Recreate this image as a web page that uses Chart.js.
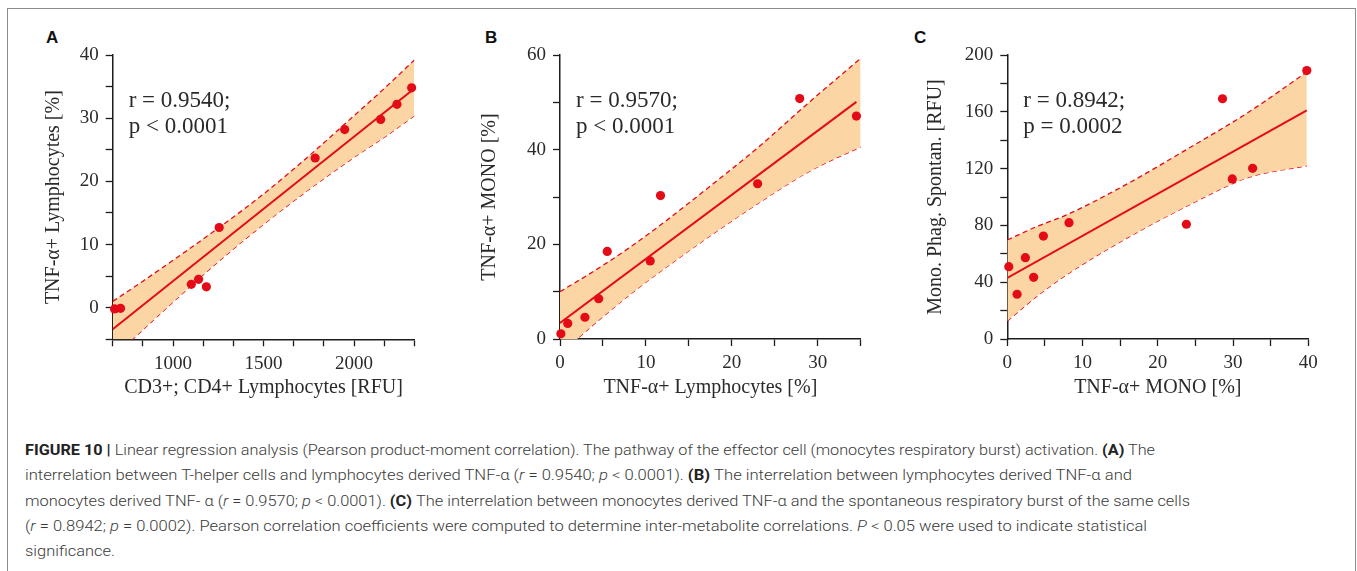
<!DOCTYPE html>
<html>
<head>
<meta charset="utf-8">
<script src="https://cdn.jsdelivr.net/npm/chart.js@4.4.1/dist/chart.umd.min.js"></script>
<style>
  html, body { margin: 0; padding: 0; background: #fff; }
  body { width: 1357px; height: 571px; position: relative; overflow: hidden; }
  .frame { position: absolute; left: 7px; top: 8px; width: 1349px; height: 700px;
           border: 1px solid #8c8c8c; border-bottom: none; box-sizing: border-box; }
  canvas { position: absolute; }
  .tag { position: absolute; font: bold 17px "Liberation Sans", Arial, sans-serif; color: #111; line-height: 17px; }
  .caption { position: absolute; left: 25px; top: 438px; font: 300 15px Roboto, sans-serif;
             color: #3a3a3a; line-height: 25.3px; }
  .caption div { white-space: nowrap; transform-origin: 0 50%; width: max-content; }
  .caption b { font-weight: 700; color: #222; }
</style>
</head>
<body>
<div class="frame"></div>
<div class="tag" style="left:46px;top:29px">A</div>
<div class="tag" style="left:485px;top:29px">B</div>
<div class="tag" style="left:914px;top:29px">C</div>
<canvas id="chartA"></canvas>
<canvas id="chartB"></canvas>
<canvas id="chartC"></canvas>
<div class="caption" id="caption">
  <div data-w="1130"><b>FIGURE 10 |</b> Linear regression analysis (Pearson product-moment correlation). The pathway of the effector cell (monocytes respiratory burst) activation. <b>(A)</b> The</div>
  <div data-w="1107">interrelation between T-helper cells and lymphocytes derived TNF-α (<i>r</i> = 0.9540; <i>p</i> &lt; 0.0001). <b>(B)</b> The interrelation between lymphocytes derived TNF-α and</div>
  <div data-w="1165">monocytes derived TNF- α (<i>r</i> = 0.9570; <i>p</i> &lt; 0.0001). <b>(C)</b> The interrelation between monocytes derived TNF-α and the spontaneous respiratory burst of the same cells</div>
  <div data-w="1122">(<i>r</i> = 0.8942; <i>p</i> = 0.0002). Pearson correlation coefficients were computed to determine inter-metabolite correlations. <i>P</i> &lt; 0.05 were used to indicate statistical</div>
  <div>significance.</div>
</div>
<script>
// panel A: CD3+CD4+ vs TNF-a+ lymphocytes
const aX = [677, 710, 1101, 1141, 1184, 1255, 1785, 1948, 2147, 2237, 2318];
const aY = [-0.2, -0.1, 3.7, 4.5, 3.3, 12.7, 23.7, 28.2, 29.8, 32.2, 34.8];
const aFitX = [666.67, 2333.33];
const aFitY = [-3.4, 34.7];
const aBandX = [666.67, 833, 1000, 1250, 1500, 1750, 2000, 2167, 2333.33];
const aBandUp = [1.0, 4.2, 7.5, 12.6, 18.0, 24.0, 30.4, 34.7, 39.2];
const aBandLo = [-7.9, -3.5, 0.9, 7.3, 13.2, 18.7, 23.8, 27.0, 30.4];
const aXTicks = [666.67, 833.33, 1000, 1166.67, 1333.33, 1500, 1666.67, 1833.33, 2000, 2166.67, 2333.33];
const aXLabels = [1000, 1500, 2000];
const aYTicks = [-5, 0, 5, 10, 15, 20, 25, 30, 35, 40];
const aYLabels = [0, 10, 20, 30, 40];

// panel B: TNF-a+ lymphocytes vs TNF-a+ MONO
const bX = [0.1, 0.9, 2.9, 4.5, 5.5, 10.5, 11.7, 23.0, 27.9, 34.5];
const bY = [1.1, 3.3, 4.6, 8.5, 18.5, 16.5, 30.3, 32.8, 50.8, 47.1];
const bFitX = [0, 34.5];
const bFitY = [3.4, 50.1];
const bBandX = [0, 4, 8, 12, 17, 23, 29, 35];
const bBandUp = [10.0, 14.4, 19.2, 24.5, 31.6, 40.4, 50.0, 59.3];
const bBandLo = [-3.2, 3.2, 9.2, 14.7, 21.2, 28.6, 35.4, 40.6];
const bXTicks = [0, 5, 10, 15, 20, 25, 30, 35];
const bXLabels = [0, 10, 20, 30];
const bYTicks = [0, 10, 20, 30, 40, 50, 60];
const bYLabels = [0, 20, 40, 60];

// panel C: TNF-a+ MONO vs spontaneous respiratory burst
const cX = [0.2, 1.3, 2.4, 3.5, 4.8, 8.2, 23.8, 28.6, 29.9, 32.6, 39.8];
const cY = [50.9, 31.5, 57.3, 43.4, 72.5, 81.9, 80.8, 169.2, 112.7, 120.2, 189.0];
const cFitX = [0, 39.8];
const cFitY = [43, 161];
const cBandX = [0, 4, 8, 16, 24, 32, 39.8];
const cBandUp = [69.7, 79.4, 87.7, 109.4, 134, 159.5, 188];
const cBandLo = [12.7, 30.4, 45.7, 71.4, 94, 113.7, 122];
const cXTicks = [0, 5, 10, 15, 20, 25, 30, 35, 40];
const cXLabels = [0, 10, 20, 30, 40];
const cYTicks = [0, 20, 40, 60, 80, 100, 120, 140, 160, 180, 200];
const cYLabels = [0, 40, 80, 120, 160, 200];

const RED = '#e30b17';
const BAND = '#fcd5a5';
const AXIS = '#1c1c1c';
const TXT = '#2a2a2a';
const SERIF = '"Liberation Serif", "Times New Roman", serif';

const pts = (xs, ys) => xs.map((x, i) => ({ x: x, y: ys[i] }));

const notePlugin = {
  id: 'note',
  afterDatasetsDraw(chart, args, opts) {
    const { ctx, chartArea } = chart;
    ctx.save();
    ctx.font = '23px ' + SERIF;
    ctx.fillStyle = TXT;
    ctx.textBaseline = 'alphabetic';
    opts.lines.forEach((t, i) => ctx.fillText(t, chartArea.left + 16, chartArea.top + 52.3 + i * 25.4));
    ctx.restore();
  }
};

function makePanel(p) {
  const cv = document.getElementById(p.id);
  const [bx, by, bw, bh] = p.box;
  const [al, at, ar, ab] = p.area;
  cv.style.left = bx + 'px';
  cv.style.top = by + 'px';
  cv.width = bw;
  cv.height = bh;
  const yW = al - bx;
  const xH = by + bh - ab;

  const tickFont = { family: SERIF, size: 19 };
  const titleFont = { family: SERIF, size: 20 };
  const dashed = { borderColor: RED, borderWidth: 1.3, borderDash: [5, 3.5], pointRadius: 0,
                   cubicInterpolationMode: 'monotone', order: 3 };

  new Chart(cv, {
    type: 'line',
    data: {
      datasets: [
        Object.assign({ data: pts(p.bandX, p.bandUp), fill: '+1', backgroundColor: BAND }, dashed),
        Object.assign({ data: pts(p.bandX, p.bandLo), fill: false }, dashed),
        { data: pts(p.fitX, p.fitY), borderColor: RED, borderWidth: 2, pointRadius: 0, fill: false, order: 2 },
        { data: pts(p.x, p.y), showLine: false, pointRadius: 4.6, pointBackgroundColor: RED,
          pointBorderWidth: 0, clip: false, order: 1 }
      ]
    },
    options: {
      responsive: false,
      animation: false,
      events: [],
      layout: { padding: { left: 0, top: at - by, right: bx + bw - ar, bottom: 0 } },
      plugins: {
        legend: { display: false },
        tooltip: { enabled: false },
        note: { lines: p.note }
      },
      scales: {
        x: {
          type: 'linear', min: p.xTicks[0], max: p.xTicks[p.xTicks.length - 1],
          afterBuildTicks: s => { s.ticks = p.xTicks.map(v => ({ value: v })); },
          afterFit: s => { s.height = xH; },
          grid: { drawOnChartArea: false, drawTicks: true, tickLength: 7, tickColor: AXIS, tickWidth: 1.3 },
          border: { display: true, color: AXIS, width: 1.5 },
          ticks: { autoSkip: false, maxRotation: 0, padding: 6, color: TXT, font: tickFont,
                   callback: v => p.xLabels.includes(v) ? String(v) : '' },
          title: { display: true, text: p.xTitle, color: TXT, font: titleFont,
                   padding: { top: 0, bottom: bh - (388 - by) - 12 } }
        },
        y: {
          type: 'linear', min: p.yTicks[0], max: p.yTicks[p.yTicks.length - 1],
          afterBuildTicks: s => { s.ticks = p.yTicks.map(v => ({ value: v })); },
          afterFit: s => { s.width = yW; },
          grid: { drawOnChartArea: false, drawTicks: true, tickLength: 7, tickColor: AXIS, tickWidth: 1.3 },
          border: { display: true, color: AXIS, width: 1.5 },
          ticks: { autoSkip: false, padding: 7, color: TXT, font: tickFont,
                   callback: v => p.yLabels.includes(v) ? String(v) : '' },
          title: { display: true, text: p.yTitle, color: TXT, font: titleFont,
                   padding: { top: p.yTitleX - bx - 12, bottom: 0 } }
        }
      }
    },
    plugins: [notePlugin]
  });
}

makePanel({
  id: 'chartA', box: [10, 20, 430, 385], area: [112.7, 55, 414.4, 339.3], yTitleX: 53.3,
  x: aX, y: aY, fitX: aFitX, fitY: aFitY, bandX: aBandX, bandUp: aBandUp, bandLo: aBandLo,
  xTicks: aXTicks, xLabels: aXLabels, yTicks: aYTicks, yLabels: aYLabels,
  xTitle: 'CD3+; CD4+ Lymphocytes [RFU]', yTitle: 'TNF-α+ Lymphocytes [%]',
  note: ['r = 0.9540;', 'p < 0.0001']
});
makePanel({
  id: 'chartB', box: [450, 20, 430, 385], area: [560, 55, 860.7, 339], yTitleX: 489.3,
  x: bX, y: bY, fitX: bFitX, fitY: bFitY, bandX: bBandX, bandUp: bBandUp, bandLo: bBandLo,
  xTicks: bXTicks, xLabels: bXLabels, yTicks: bYTicks, yLabels: bYLabels,
  xTitle: 'TNF-α+ Lymphocytes [%]', yTitle: 'TNF-α+ MONO [%]',
  note: ['r = 0.9570;', 'p < 0.0001']
});
makePanel({
  id: 'chartC', box: [885, 20, 460, 385], area: [1007.3, 55, 1308.3, 339], yTitleX: 936,
  x: cX, y: cY, fitX: cFitX, fitY: cFitY, bandX: cBandX, bandUp: cBandUp, bandLo: cBandLo,
  xTicks: cXTicks, xLabels: cXLabels, yTicks: cYTicks, yLabels: cYLabels,
  xTitle: 'TNF-α+ MONO [%]', yTitle: 'Mono. Phag. Spontan. [RFU]',
  note: ['r = 0.8942;', 'p = 0.0002']
});

// squeeze caption lines to the widths seen in the figure
const rows = document.querySelectorAll('#caption div');
let sum = 0, n = 0;
rows.forEach(r => {
  const w = +r.dataset.w;
  if (w) { const k = w / r.getBoundingClientRect().width; r.style.transform = 'scaleX(' + k + ')'; sum += k; n++; }
});
rows.forEach(r => { if (!r.dataset.w) r.style.transform = 'scaleX(' + (sum / n) + ')'; });
</script>
</body>
</html>
